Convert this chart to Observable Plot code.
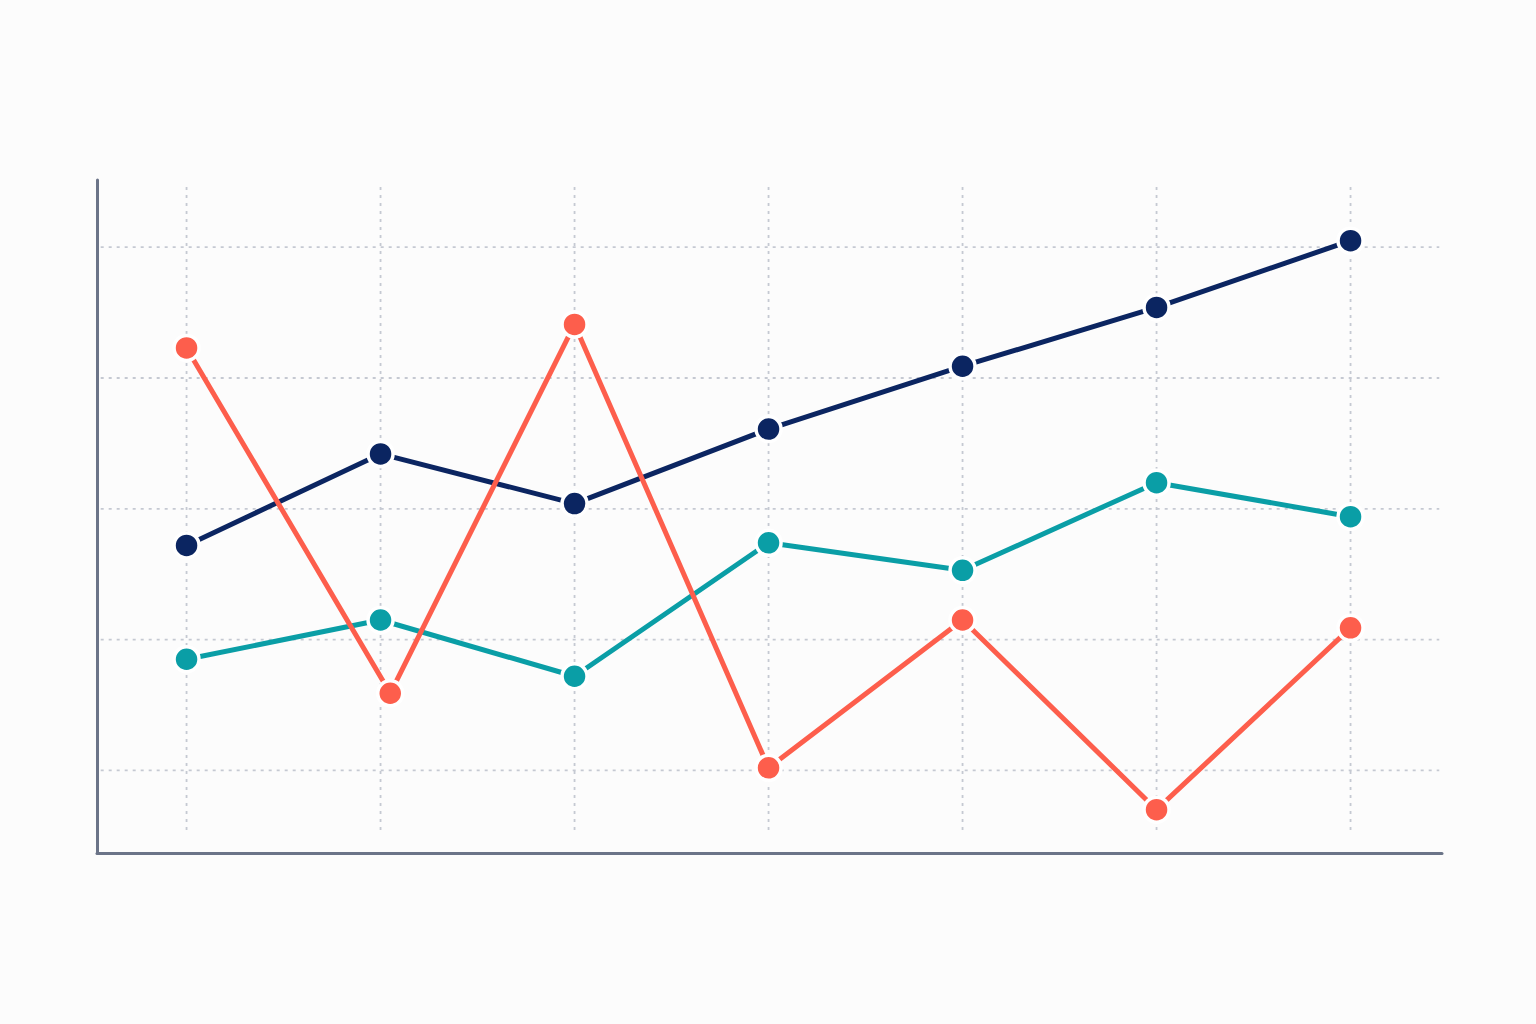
<!DOCTYPE html>
<html><head><meta charset="utf-8">
<script src="https://cdn.jsdelivr.net/npm/d3@7"></script>
<script src="https://cdn.jsdelivr.net/npm/@observablehq/plot@0.6"></script>
<style>html,body{margin:0;padding:0;background:#fcfcfc;}#chart svg{display:block;}</style>
</head><body><div id="chart"></div>
<script>
const xIndex = [0, 1, 2, 3, 4, 5, 6];
const navyValues = [2.72, 3.42, 3.04, 3.61, 4.09, 4.54, 5.05];
const tealValues = [1.85, 2.15, 1.72, 2.74, 2.53, 3.20, 2.94];
const redX = [0, 1.05, 2, 3, 4, 5, 6];
const redValues = [4.23, 1.59, 4.41, 1.02, 2.15, 0.70, 2.09];
const gridY = [1, 2, 3, 4, 5];
const gridX = [0, 1, 2, 3, 4, 5, 6];

const series = [
  {name: "navy", color: "#0b2561", xs: xIndex, ys: navyValues},
  {name: "teal", color: "#0a9ea6", xs: xIndex, ys: tealValues},
  {name: "red", color: "#fd5e4c", xs: redX, ys: redValues}
];
const rows = series.flatMap(s => s.ys.map((v, i) => ({series: s.name, color: s.color, x: s.xs[i], y: v})));

const gridColor = "#c5c9d2";
const chart = Plot.plot({
  width: 1536, height: 1024,
  marginLeft: 97, marginRight: 94, marginTop: 180, marginBottom: 171,
  style: {background: "#fcfcfc"},
  x: {domain: [-0.459, 6.474], axis: null},
  y: {domain: [0.365, 5.51], axis: null},
  marks: [
    Plot.ruleX(gridX, {x: d => d, y1: 0.54, y2: 5.47, stroke: gridColor, strokeWidth: 1.8, strokeDasharray: "3,5"}),
    Plot.ruleY(gridY, {y: d => d, x1: -0.44, x2: 6.46, stroke: gridColor, strokeWidth: 1.8, strokeDasharray: "3,5"}),
    Plot.ruleX([-0.459], {y1: 0.365, y2: 5.51, stroke: "#6b7488", strokeWidth: 3, strokeLinecap: "round"}),
    Plot.ruleY([0.365], {x1: -0.459, x2: 6.474, stroke: "#6b7488", strokeWidth: 3, strokeLinecap: "round"}),
    ...series.map(s => Plot.line(rows.filter(r => r.series === s.name), {x: "x", y: "y", stroke: s.color, strokeWidth: 5})),
    ...series.map(s => Plot.dot(rows.filter(r => r.series === s.name), {x: "x", y: "y", r: 12.5, fill: s.color, stroke: "#ffffff", strokeWidth: 3.5}))
  ]
});
document.getElementById("chart").appendChild(chart);
</script></body></html>
